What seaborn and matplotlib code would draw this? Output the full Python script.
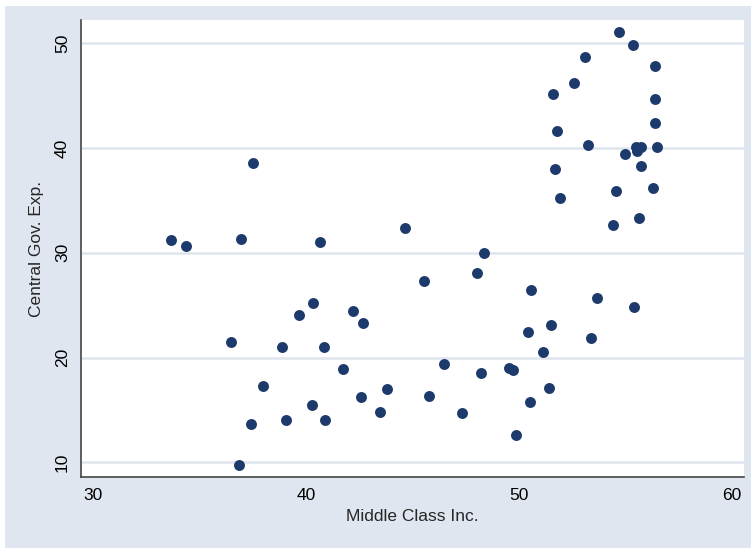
import numpy as np
import pandas as pd
import matplotlib
matplotlib.use("Agg")
import matplotlib.pyplot as plt
import seaborn as sns
from matplotlib.patches import Rectangle

# data
middle_class_inc = [
    54.68, 55.33, 53.08, 56.37, 52.58, 51.60, 56.40, 56.40, 51.80, 53.26,
    55.51, 55.74, 55.55, 56.48, 54.98, 51.69, 55.74, 37.53, 54.55, 56.27,
    51.91, 55.63, 54.43, 44.66, 33.68, 34.38, 36.96, 40.67, 48.36, 48.03,
    45.55, 50.56, 53.65, 55.38, 40.34, 39.68, 42.23, 42.70, 51.52, 50.44,
    53.36, 36.46, 38.87, 40.83, 51.11, 41.72, 46.46, 48.20, 49.51, 49.70,
    38.00, 43.80, 51.39, 42.56, 45.76, 40.30, 50.53, 43.46, 47.32, 37.43,
    39.06, 40.87, 49.84, 36.84,
]
central_gov_exp = [
    51.05, 49.87, 48.72, 47.83, 46.24, 45.16, 44.68, 42.36, 41.63, 40.29,
    40.10, 40.10, 39.72, 40.10, 39.43, 38.03, 38.29, 38.57, 35.93, 36.16,
    35.20, 33.34, 32.64, 32.36, 31.21, 30.64, 31.30, 31.02, 29.97, 28.06,
    27.32, 26.45, 25.68, 24.85, 25.21, 24.06, 24.44, 23.33, 23.11, 22.47,
    21.87, 21.46, 21.01, 20.98, 20.50, 18.91, 19.36, 18.50, 18.97, 18.78,
    17.28, 16.97, 17.06, 16.23, 16.33, 15.47, 15.79, 14.83, 14.68, 13.66,
    14.07, 14.02, 12.61, 9.77,
]
x_ticks = [30, 40, 50, 60]
y_ticks = [10, 20, 30, 40, 50]

df = pd.DataFrame({"Middle Class Inc.": middle_class_inc,
                   "Central Gov. Exp.": central_gov_exp})

sns.set_style("white")
plt.rcParams["font.family"] = ["Liberation Sans", "DejaVu Sans"]

bg = "#E0E6EF"
fig = plt.figure(figsize=(7.51, 5.48), dpi=100, facecolor="white")
fig.patches.append(Rectangle((5 / 751, 0), 1, 1 - 6 / 548, transform=fig.transFigure,
                             facecolor=bg, edgecolor="none", zorder=-10))

ax = fig.add_axes([81 / 751, 71 / 548, 663 / 751, 457 / 548])
ax.set_facecolor("white")

sns.scatterplot(data=df, x="Middle Class Inc.", y="Central Gov. Exp.", ax=ax,
                color="#1C3A6C", s=62, linewidth=0, zorder=3)

ax.set_xlim(29.44, 60.56)
ax.set_ylim(8.6, 52.22)
ax.set_xticks(x_ticks)
ax.set_yticks(y_ticks)
for yt in y_ticks:
    ax.axhline(yt, color="#DFE5EF", lw=1.8, zorder=1)

ax.tick_params(axis="both", direction="out", length=5, width=1, color="#444444",
               labelsize=12.5, labelcolor="black", pad=3)
for lab in ax.get_yticklabels():
    lab.set_rotation(90)
    lab.set_va("center")

for side in ["top", "right"]:
    ax.spines[side].set_visible(False)
for side in ["left", "bottom"]:
    ax.spines[side].set_color("#444444")
    ax.spines[side].set_linewidth(1.2)

ax.set_xlabel("Middle Class Inc.", fontsize=12.5, labelpad=4)
ax.set_ylabel("Central Gov. Exp.", fontsize=12.5, labelpad=8)

fig.savefig("out.png", dpi=100, facecolor=fig.get_facecolor())
